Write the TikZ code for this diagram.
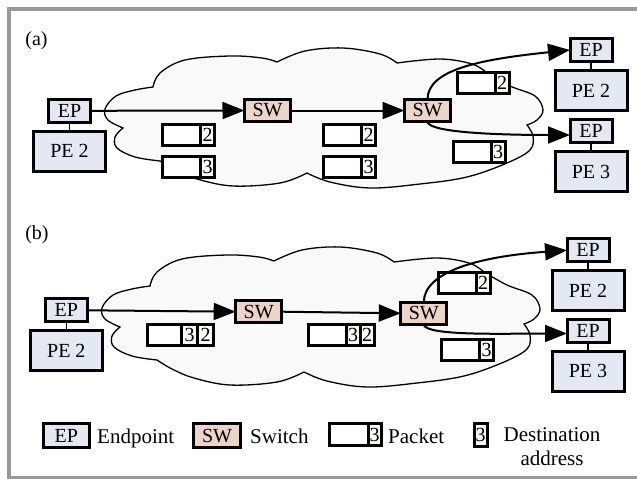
\documentclass[tikz,border=0pt]{standalone}
\usepackage{fontspec}
\setmainfont{Liberation Serif}
\usetikzlibrary{positioning,arrows.meta}

\definecolor{epfill}{HTML}{E4E8F2}
\definecolor{swfill}{HTML}{EDD4C9}
\definecolor{cellfill}{HTML}{FFFAF3}
\definecolor{cloudfill}{HTML}{F9F9F9}
\definecolor{framegray}{HTML}{999999}

\tikzset{
  box/.style={draw, line width=3pt, outer sep=0pt, inner sep=0pt},
  ep/.style={box, fill=epfill, minimum width=42pt, minimum height=23pt},
  pe/.style={box, fill=epfill, minimum width=72pt, minimum height=40pt},
  sw/.style={box, fill=swfill, minimum width=46pt, minimum height=22pt},
  pkt/.style={box, fill=white, minimum width=38pt, minimum height=21pt},
  addr/.style={box, fill=cellfill, minimum width=14pt, minimum height=21pt},
  link/.style={line width=1.5pt},
  flow/.style={line width=2pt, -{Triangle[length=22pt,width=17pt]}},
  cloudarea/.style={draw=black, fill=cloudfill, line width=1.3pt},
  legend/.style={inner sep=0pt, font=\fontsize{21}{24}\selectfont},
}

% the network cloud, in picture units
\newcommand{\netcloud}{%
  \filldraw[cloudarea]
    plot[smooth,tension=.6] coordinates {(123,128) (108,120) (105,109) (116,96) (135,90) (153,87)}
    -- plot[smooth,tension=.6] coordinates {(153,87) (160,73) (185,60) (230,56) (262,58) (277,62)}
    -- plot[smooth,tension=.6] coordinates {(277,62) (305,51) (343,48) (380,54) (397,63)}
    -- plot[smooth,tension=.6] coordinates {(397,63) (440,59) (472,64) (487,73)}
    -- plot[smooth,tension=.6] coordinates {(487,73) (510,86) (535,96) (543,110) (537,120) (527,125)}
    -- plot[smooth,tension=.6] coordinates {(527,125) (533,136) (530,150) (507,163) (467,177) (420,184) (370,188) (330,182) (307,173)}
    -- plot[smooth,tension=.6] coordinates {(307,173) (280,183) (233,186) (197,179) (175,170) (160,161)}
    -- plot[smooth,tension=.6] coordinates {(160,161) (135,157) (117,148) (115,137) (123,128)}
    -- cycle;}

\begin{document}
\begin{tikzpicture}[x=1pt, y=-1pt, node distance=0pt, font=\fontsize{20}{24}\selectfont]
\useasboundingbox (0,0) rectangle (637,479);
\draw[framegray, line width=4pt] (637,9) -- (8.5,9) -- (8.5,477.5) -- (637,477.5);

% (a)
\netcloud
\node (alabel) at (36.5,41) {(a)};
\node[ep] (aEP1) at (69.5,110.8) {EP};
\node[pe] (aPE1) at (69.5,151) {PE 2};
\node[sw] (aSW1) at (267.5,110.5) {SW};
\node[sw] (aSW2) at (427.5,110.5) {SW};
\node[ep] (aEP2) at (591,50) {EP};
\node[pe] (aPE2) at (591,90.5) {PE 2};
\node[ep] (aEP3) at (591,131) {EP};
\node[pe] (aPE3) at (591,171.5) {PE 3};

\node[pkt] (aP1) at (181.5,135) {};
\node[addr, right=of aP1] (aA1) {2};
\node[pkt] (aP2) at (181.5,166.5) {};
\node[addr, right=of aP2] (aA2) {3};
\node[pkt] (aP3) at (342.5,135) {};
\node[addr, right=of aP3] (aA3) {2};
\node[pkt] (aP4) at (342.5,166.5) {};
\node[addr, right=of aP4] (aA4) {3};
\node[pkt] (aP5) at (476,83) {};
\node[addr, right=of aP5] (aA5) {2};
\node[pkt] (aP6) at (472,152) {};
\node[addr, right=of aP6] (aA6) {3};

\draw[link] (aEP1) -- (aPE1);
\draw[link] (aEP2) -- (aPE2);
\draw[link] (aEP3) -- (aPE3);
\draw[flow] (aEP1.east) -- (aSW1.west);
\draw[flow] (aSW1.east) -- (aSW2.west);
\draw[flow] (aSW2.north) to[out=90, in=186, out distance=30pt, in distance=90pt] (aEP2.west);
\draw[flow] (aSW2.south) to[out=-90, in=180, out distance=12pt, in distance=60pt] ([yshift=-4pt]aEP3.west);

% (b)
\begin{scope}[shift={(-3,199)}]
\netcloud
\end{scope}
\node (blabel) at (37,235) {(b)};
\node[ep] (bEP1) at (66.3,310.3) {EP};
\node[pe] (bPE1) at (66.3,350.8) {PE 2};
\node[sw] (bSW1) at (258.7,311.7) {SW};
\node[sw] (bSW2) at (423.8,313.3) {SW};
\node[ep] (bEP2) at (588,250.3) {EP};
\node[pe] (bPE2) at (588,290.5) {PE 2};
\node[ep] (bEP3) at (588,331) {EP};
\node[pe] (bPE3) at (588,371.3) {PE 3};

\node[pkt, minimum width=34pt] (bP1) at (164.5,335) {};
\node[addr, minimum width=16pt, right=of bP1] (bA1) {3};
\node[addr, minimum width=16pt, right=of bA1] (bB1) {2};
\node[pkt] (bP2) at (327.2,335) {};
\node[addr, right=of bP2] (bA2) {3};
\node[addr, right=of bA2] (bB2) {2};
\node[pkt] (bP3) at (457.2,283) {};
\node[addr, right=of bP3] (bA3) {2};
\node[pkt] (bP4) at (460.5,349.5) {};
\node[addr, right=of bP4] (bA4) {3};

\draw[link] (bEP1) -- (bPE1);
\draw[link] (bEP2) -- (bPE2);
\draw[link] (bEP3) -- (bPE3);
\draw[flow] (bEP1.east) -- (bSW1.west);
\draw[flow] (bSW1.east) -- (bSW2.west);
\draw[flow] (bSW2.north) to[out=90, in=184, out distance=30pt, in distance=90pt] (bEP2.west);
\draw[flow] (bSW2.south) to[out=-90, in=180, out distance=12pt, in distance=60pt] ([yshift=-2.5pt]bEP3.west);

% legend
\node[ep, minimum width=46pt, minimum height=24pt] (lEP) at (66.3,435.8) {EP};
\node[legend, anchor=base west] (lEPtxt) at (97,443) {Endpoint};
\node[sw, minimum width=47pt, minimum height=24pt] (lSW) at (217,435.8) {SW};
\node[legend, anchor=base west] (lSWtxt) at (250,443) {Switch};
\node[pkt, minimum width=39pt, minimum height=22pt] (lP) at (348.7,434.5) {};
\node[addr, minimum width=13pt, minimum height=22pt, right=of lP] (lA) {3};
\node[legend, anchor=base west] (lPtxt) at (388,443) {Packet};
\node[addr, minimum width=13pt, minimum height=23pt] (lD) at (480.5,434.7) {3};
\node[legend, align=center] (lDtxt) at (552,446.7) {Destination\\address};
\end{tikzpicture}
\end{document}
